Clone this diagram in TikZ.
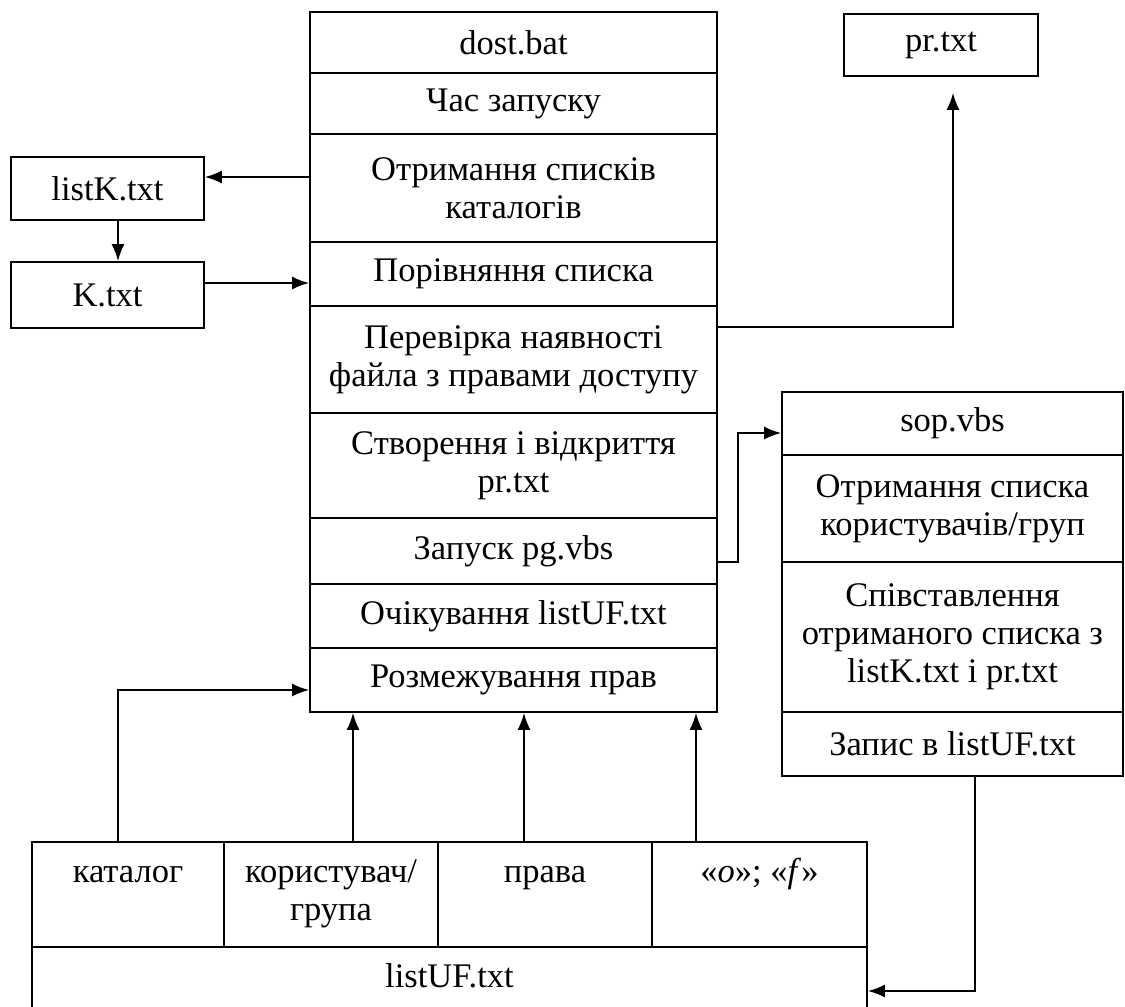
\documentclass[tikz,border=0pt]{standalone}
\usepackage{fontspec}
\setmainfont{Liberation Serif}
\usetikzlibrary{arrows.meta,calc}
\begin{document}
\begin{tikzpicture}[x=1pt,y=-1pt,
  font=\fontsize{34.5}{38}\selectfont,
  box/.style={draw, line width=1.8pt, inner sep=0pt, align=center},
  txt/.style={anchor=north, inner sep=0pt, align=center},
  arr/.style={-{Latex[length=17pt,width=13pt]}, line width=1.7pt}]
\useasboundingbox (0,0) rectangle (1125,1007);
\clip (0,0) rectangle (1125,1007);
% main column
\node[box, minimum width=407pt, minimum height=61pt] (r1) at (513.5,42.5) {dost.bat};
\node[box, minimum width=407pt, minimum height=61pt] (r2) at (513.5,103.5) {Час запуску};
\node[box, minimum width=407pt, minimum height=108pt] (r3) at (513.5,188) {Отримання списків\\каталогів};
\node[box, minimum width=407pt, minimum height=64pt] (r4) at (513.5,274) {Порівняння списка};
\node[box, minimum width=407pt, minimum height=107pt] (r5) at (513.5,359.5) {Перевірка наявності\\файла з правами доступу};
\node[box, minimum width=407pt, minimum height=105pt] (r6) at (513.5,465.5) {Створення і відкриття\\pr.txt};
\node[box, minimum width=407pt, minimum height=66pt] (r7) at (513.5,551) {Запуск pg.vbs};
\node[box, minimum width=407pt, minimum height=64pt] (r8) at (513.5,616) {Очікування listUF.txt};
\node[box, minimum width=407pt, minimum height=64pt] (r9) at (513.5,680) {Розмежування прав};
% sop.vbs column
\node[box, minimum width=341pt, minimum height=63pt] (s1) at (952.5,423.5) {sop.vbs};
\node[box, minimum width=341pt, minimum height=107pt] (s2) at (952.5,508.5) {Отримання списка\\користувачів/груп};
\node[box, minimum width=341pt, minimum height=150pt] (s3) at (952.5,637) {Співставлення\\отриманого списка з\\listK.txt і pr.txt};
\node[box, minimum width=341pt, minimum height=64pt] (s4) at (952.5,744) {Запис в listUF.txt};
% side files
\node[box, minimum width=193pt, minimum height=63pt] (listK) at (107.5,188.5) {listK.txt};
\node[box, minimum width=193pt, minimum height=66pt] (K) at (107.5,295) {K.txt};
\node[box, minimum width=194pt, minimum height=62pt] (pr) at (941,45) {pr.txt};
% bottom table
\node[box, minimum width=192pt, minimum height=105pt] (kat) at (128,894.5) {};
\node[box, minimum width=214pt, minimum height=105pt] (user) at (331,894.5) {};
\node[box, minimum width=214pt, minimum height=105pt] (rights) at (545,894.5) {};
\node[box, minimum width=215pt, minimum height=105pt] (flags) at (759.5,894.5) {};
\node[box, minimum width=835pt, minimum height=88pt] (listUF) at (449.5,991) {};
\node[txt] (katT) at (kat.north |- 0,856) {\rule{0pt}{26pt}каталог};
\node[txt] (userT) at (user.north |- 0,856) {\rule{0pt}{26pt}користувач/\\група};
\node[txt] (rightsT) at (rights.north |- 0,856) {\rule{0pt}{26pt}права};
\node[txt] (flagsT) at (flags.north |- 0,856) {\rule{0pt}{26pt}«\textit{o}»; «\textit{f}»};
\node[txt] (listUFT) at (listUF.north |- 0,961) {\rule{0pt}{26pt}listUF.txt};
% connectors
\draw[arr] ([yshift=11pt]r3.west) -- ([yshift=11pt]r3.west -| listK.east);
\draw[arr] ([xshift=10.5pt]listK.south) -- ([xshift=10.5pt]K.north);
\draw[arr] ([yshift=12pt]K.east) -- ([yshift=12pt]K.east -| r4.west);
\draw[arr, shorten >=16pt] ([yshift=32.5pt]r5.east) -| ([xshift=12pt]pr.south);
\draw[arr] ([yshift=-11pt]r7.east) -- ++(20,0) |- ([yshift=-9.5pt]s1.west);
\draw[arr] ([xshift=22.5pt]s4.south) |- (listUF.east);
\draw[arr] ([xshift=-10pt]kat.north) |- ([yshift=-10pt]r9.west);
\draw[arr] ([xshift=22pt]user.north) -- ([xshift=22pt]user.north |- r9.south);
\draw[arr] ([xshift=-21pt]rights.north) -- ([xshift=-21pt]rights.north |- r9.south);
\draw[arr] ([xshift=-63.5pt]flags.north) -- ([xshift=-63.5pt]flags.north |- r9.south);
\end{tikzpicture}
\end{document}
